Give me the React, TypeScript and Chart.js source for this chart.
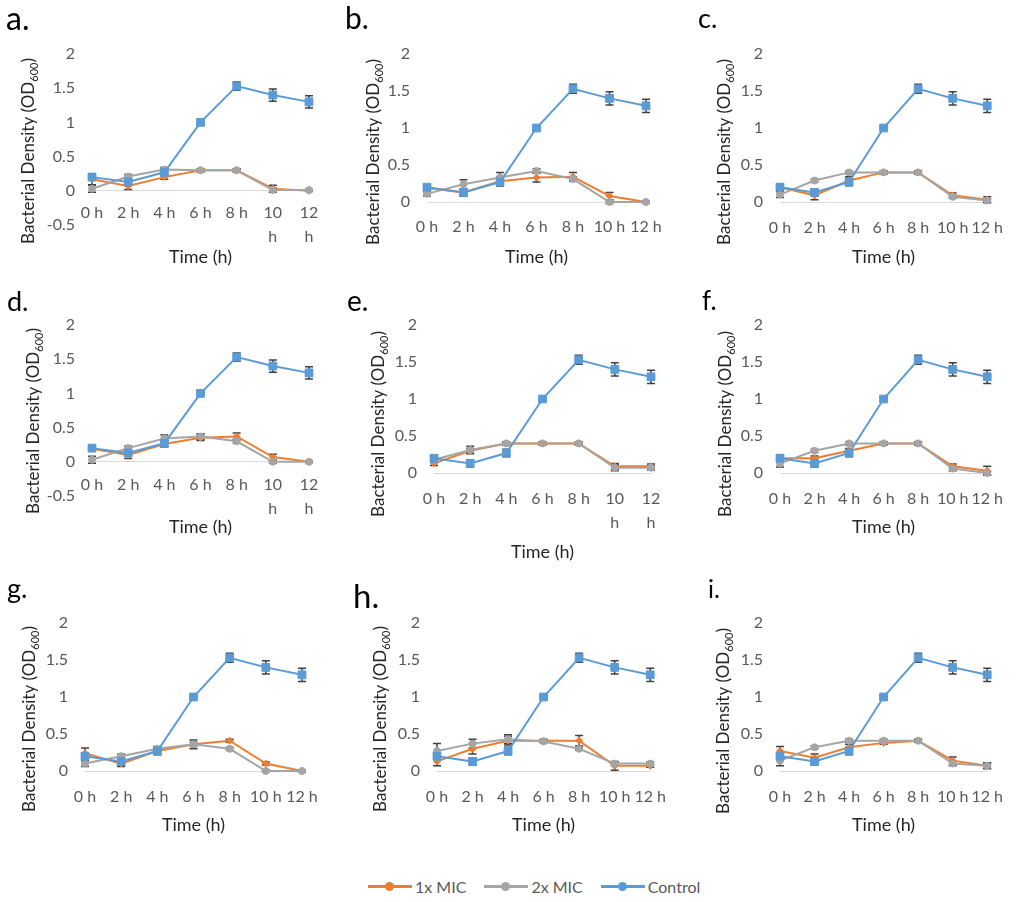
import React, { useEffect, useRef } from "react";
import { Chart, registerables } from "chart.js";

Chart.register(...registerables);

const FONT = "Lato, 'Open Sans', 'DejaVu Sans', sans-serif";

// ---------------- Data ----------------
const timeLabels = ["0 h", "2 h", "4 h", "6 h", "8 h", "10 h", "12 h"];
const timeLabelsWrapped = ["0 h", "2 h", "4 h", "6 h", "8 h", ["10", "h"], ["12", "h"]];
const seriesNames = ["1x MIC", "2x MIC", "Control"];
const xTitleText = "Time (h)";
const yTitleMain = "Bacterial Density (OD";
const yTitleSub = "600";
const yTitleEnd = ")";
const panelLetters = ["a.", "b.", "c.", "d.", "e.", "f.", "g.", "h.", "i."];

const controlValues = [0.2, 0.13, 0.27, 1.0, 1.53, 1.4, 1.3];
const controlErrors = [0.03, 0.05, 0.05, 0.02, 0.06, 0.09, 0.09];

const mic1A = [0.17, 0.07, 0.2, 0.3, 0.3, 0.03, 0.0];
const mic1AErr = [0.08, 0.05, 0.03, 0.02, 0.02, 0.05, 0.01];
const mic2A = [0.03, 0.21, 0.31, 0.3, 0.3, 0.01, 0.01];
const mic2AErr = [0.05, 0.03, 0.03, 0.02, 0.02, 0.03, 0.01];

const mic1B = [0.19, 0.13, 0.28, 0.33, 0.34, 0.08, 0.0];
const mic1BErr = [0.03, 0.05, 0.06, 0.06, 0.06, 0.05, 0.01];
const mic2B = [0.11, 0.24, 0.33, 0.42, 0.31, 0.0, 0.0];
const mic2BErr = [0.03, 0.06, 0.07, 0.03, 0.03, 0.02, 0.01];

const mic1C = [0.2, 0.09, 0.29, 0.4, 0.4, 0.09, 0.03];
const mic1CErr = [0.04, 0.06, 0.05, 0.02, 0.02, 0.03, 0.04];
const mic2C = [0.1, 0.29, 0.4, 0.4, 0.4, 0.07, 0.02];
const mic2CErr = [0.04, 0.02, 0.02, 0.02, 0.02, 0.02, 0.02];

const mic1D = [0.19, 0.1, 0.26, 0.35, 0.37, 0.07, 0.0];
const mic1DErr = [0.03, 0.05, 0.04, 0.04, 0.05, 0.04, 0.01];
const mic2D = [0.03, 0.2, 0.34, 0.37, 0.3, 0.0, 0.0];
const mic2DErr = [0.05, 0.03, 0.05, 0.04, 0.03, 0.02, 0.01];

const mic1E = [0.13, 0.3, 0.4, 0.4, 0.4, 0.09, 0.09];
const mic1EErr = [0.03, 0.03, 0.02, 0.02, 0.02, 0.04, 0.03];
const mic2E = [0.18, 0.31, 0.4, 0.4, 0.4, 0.07, 0.07];
const mic2EErr = [0.03, 0.05, 0.02, 0.02, 0.02, 0.04, 0.03];

const mic1F = [0.2, 0.2, 0.3, 0.4, 0.4, 0.09, 0.03];
const mic1FErr = [0.04, 0.03, 0.03, 0.02, 0.02, 0.03, 0.06];
const mic2F = [0.13, 0.3, 0.4, 0.4, 0.4, 0.06, 0.0];
const mic2FErr = [0.05, 0.02, 0.02, 0.02, 0.02, 0.03, 0.02];

const mic1G = [0.24, 0.1, 0.27, 0.36, 0.41, 0.1, 0.0];
const mic1GErr = [0.07, 0.04, 0.04, 0.06, 0.02, 0.02, 0.01];
const mic2G = [0.1, 0.2, 0.3, 0.36, 0.3, 0.0, 0.0];
const mic2GErr = [0.04, 0.03, 0.03, 0.03, 0.02, 0.01, 0.01];

const mic1H = [0.13, 0.3, 0.41, 0.41, 0.41, 0.07, 0.07];
const mic1HErr = [0.06, 0.07, 0.06, 0.02, 0.07, 0.06, 0.02];
const mic2H = [0.27, 0.37, 0.43, 0.4, 0.3, 0.1, 0.1];
const mic2HErr = [0.1, 0.06, 0.06, 0.02, 0.02, 0.02, 0.02];

const mic1I = [0.27, 0.18, 0.32, 0.38, 0.41, 0.14, 0.07];
const mic1IErr = [0.06, 0.05, 0.04, 0.02, 0.02, 0.05, 0.03];
const mic2I = [0.14, 0.32, 0.41, 0.41, 0.41, 0.1, 0.07];
const mic2IErr = [0.07, 0.02, 0.02, 0.02, 0.02, 0.03, 0.04];

const panelSeries = [
  { mic1: mic1A, mic1Err: mic1AErr, mic2: mic2A, mic2Err: mic2AErr },
  { mic1: mic1B, mic1Err: mic1BErr, mic2: mic2B, mic2Err: mic2BErr },
  { mic1: mic1C, mic1Err: mic1CErr, mic2: mic2C, mic2Err: mic2CErr },
  { mic1: mic1D, mic1Err: mic1DErr, mic2: mic2D, mic2Err: mic2DErr },
  { mic1: mic1E, mic1Err: mic1EErr, mic2: mic2E, mic2Err: mic2EErr },
  { mic1: mic1F, mic1Err: mic1FErr, mic2: mic2F, mic2Err: mic2FErr },
  { mic1: mic1G, mic1Err: mic1GErr, mic2: mic2G, mic2Err: mic2GErr },
  { mic1: mic1H, mic1Err: mic1HErr, mic2: mic2H, mic2Err: mic2HErr },
  { mic1: mic1I, mic1Err: mic1IErr, mic2: mic2I, mic2Err: mic2IErr },
];

// ---------------- Layout / style ----------------
const COLORS = ["#ED7D31", "#A5A5A5", "#5B9BD5"];
const TICK_COLOR = "#595959";
const TITLE_COLOR = "#262626";
const TICK_SIZE = 16;
const TITLE_SIZE = 18;
const Y_TITLE_SIZE = 17;
const Y_AXIS_W = 50;

// canvas: [x, y, w, h]; area: [left, right, top, bottom] in page px
const panelLayout = [
  { canvas: [0, 0, 340, 282], area: [92, 309, 54, 225], yMin: -0.5, wrap: true, labelPad: 10, xTitleY: 257, yTitle: [28, 151], letter: [6, 30, 32] },
  { canvas: [340, 0, 340, 282], area: [427, 646, 54, 202], yMin: 0, wrap: false, labelPad: 13, xTitleY: 257, yTitle: [373, 152], letter: [345, 29, 30] },
  { canvas: [680, 0, 337, 282], area: [780, 997, 54, 202], yMin: 0, wrap: false, labelPad: 14, xTitleY: 257, yTitle: [724, 152], letter: [698, 28, 27] },
  { canvas: [0, 282, 340, 288], area: [92, 309, 325, 496], yMin: -0.5, wrap: true, labelPad: 11, xTitleY: 527, yTitle: [33, 421], letter: [7, 311, 27] },
  { canvas: [340, 282, 340, 288], area: [434, 651, 325, 473], yMin: 0, wrap: true, labelPad: 14, xTitleY: 552, yTitle: [378, 424], letter: [347, 311, 28] },
  { canvas: [680, 282, 337, 288], area: [780, 997, 325, 473], yMin: 0, wrap: false, labelPad: 14, xTitleY: 527, yTitle: [725, 424], letter: [702, 310, 26] },
  { canvas: [0, 570, 340, 280], area: [85, 302, 623, 771], yMin: 0, wrap: false, labelPad: 14, xTitleY: 825, yTitle: [29, 719], letter: [7, 598, 27] },
  { canvas: [340, 570, 340, 280], area: [437, 652, 623, 771], yMin: 0, wrap: false, labelPad: 14, xTitleY: 825, yTitle: [380, 719], letter: [353, 608, 33] },
  { canvas: [680, 570, 337, 280], area: [780, 997, 623, 771], yMin: 0, wrap: false, labelPad: 14, xTitleY: 825, yTitle: [723, 721], letter: [708, 598, 25] },
];

const decorPlugin = {
  id: "decor",
  beforeDatasetsDraw(chart: any) {
    const ctx = chart.ctx;
    const yScale = chart.scales.y;
    ctx.save();
    ctx.strokeStyle = "#404040";
    ctx.lineWidth = 1.5;
    chart.data.datasets.forEach((ds: any, i: number) => {
      const errs = ds.errors;
      if (!errs) return;
      const meta = chart.getDatasetMeta(i);
      meta.data.forEach((pt: any, j: number) => {
        const v = ds.data[j];
        const e = errs[j];
        if (!e) return;
        const x = pt.x;
        const y1 = yScale.getPixelForValue(v + e);
        const y2 = yScale.getPixelForValue(v - e);
        ctx.beginPath();
        ctx.moveTo(x, y1);
        ctx.lineTo(x, y2);
        ctx.moveTo(x - 4, y1);
        ctx.lineTo(x + 4, y1);
        ctx.moveTo(x - 4, y2);
        ctx.lineTo(x + 4, y2);
        ctx.stroke();
      });
    });
    ctx.restore();
  },
  afterDraw(chart: any, _args: any, o: any) {
    const ctx = chart.ctx;
    const ca = chart.chartArea;
    ctx.save();
    // panel letter
    ctx.fillStyle = "#000";
    ctx.textAlign = "left";
    ctx.textBaseline = "alphabetic";
    ctx.font = `${o.letterSize}px ${FONT}`;
    ctx.fillText(o.letter, o.letterX, o.letterY);
    // x title
    ctx.fillStyle = TITLE_COLOR;
    ctx.font = `${TITLE_SIZE}px ${FONT}`;
    ctx.textAlign = "center";
    ctx.textBaseline = "middle";
    ctx.fillText(xTitleText, (ca.left + ca.right) / 2, o.xTitleY);
    // y title (rotated, with subscript)
    ctx.translate(o.yTitleX, o.yTitleY);
    ctx.rotate(-Math.PI / 2);
    const mainFont = `${Y_TITLE_SIZE}px ${FONT}`;
    const subFont = `${Math.round(Y_TITLE_SIZE * 0.65)}px ${FONT}`;
    ctx.font = mainFont;
    const w1 = ctx.measureText(yTitleMain).width;
    const w3 = ctx.measureText(yTitleEnd).width;
    ctx.font = subFont;
    const w2 = ctx.measureText(yTitleSub).width;
    let x = -(w1 + w2 + w3) / 2;
    const base = Y_TITLE_SIZE * 0.35;
    ctx.textAlign = "left";
    ctx.textBaseline = "alphabetic";
    ctx.font = mainFont;
    ctx.fillText(yTitleMain, x, base);
    x += w1;
    ctx.font = subFont;
    ctx.fillText(yTitleSub, x, base + Y_TITLE_SIZE * 0.22);
    x += w2;
    ctx.font = mainFont;
    ctx.fillText(yTitleEnd, x, base);
    ctx.restore();
  },
};

function Panel({ index }: { index: number }) {
  const ref = useRef<HTMLCanvasElement>(null);
  const L = panelLayout[index];
  const S = panelSeries[index];
  const [cx, cy, cw, ch] = L.canvas;
  const [al, ar, at, ab] = L.area;

  useEffect(() => {
    if (!ref.current) return;
    const mk = (label: string, data: number[], errors: number[], color: string, style: string, radius: number, order: number) => ({
      label,
      data,
      errors,
      borderColor: color,
      backgroundColor: color,
      pointBackgroundColor: color,
      pointBorderColor: color,
      pointStyle: style,
      pointRadius: radius,
      pointBorderWidth: 1,
      borderWidth: 2,
      tension: 0,
      clip: false,
      order,
    });
    const chart = new Chart(ref.current, {
      type: "line",
      data: {
        labels: (L.wrap ? timeLabelsWrapped : timeLabels) as any,
        datasets: [
          mk(seriesNames[0], S.mic1, S.mic1Err, COLORS[0], "rectRot", 3.5, 2),
          mk(seriesNames[1], S.mic2, S.mic2Err, COLORS[1], "circle", 3.5, 1),
          mk(seriesNames[2], controlValues, controlErrors, COLORS[2], "rect", 5.5, 0),
        ] as any,
      },
      options: {
        animation: false,
        responsive: true,
        maintainAspectRatio: false,
        events: [],
        layout: {
          padding: {
            left: al - cx - Y_AXIS_W,
            right: cx + cw - ar,
            top: at - cy,
            bottom: cy + ch - ab,
          },
        },
        plugins: {
          legend: { display: false },
          tooltip: { enabled: false },
          decor: {
            letter: panelLetters[index],
            letterX: L.letter[0] - cx,
            letterY: L.letter[1] - cy,
            letterSize: L.letter[2],
            xTitleY: L.xTitleY - cy,
            yTitleX: L.yTitle[0] - cx,
            yTitleY: L.yTitle[1] - cy,
          },
        } as any,
        scales: {
          x: {
            type: "category",
            position: { y: 0 } as any,
            offset: false,
            grid: { display: false, drawTicks: false },
            border: { display: true, color: "#D9D9D9", width: 1 },
            ticks: {
              autoSkip: false,
              maxRotation: 0,
              minRotation: 0,
              padding: L.labelPad,
              color: TICK_COLOR,
              font: { family: FONT, size: TICK_SIZE, lineHeight: 1.5 },
            },
          },
          y: {
            type: "linear",
            min: L.yMin,
            max: 2,
            grid: { display: false, drawTicks: false },
            border: { display: false },
            afterFit: (s: any) => {
              s.width = Y_AXIS_W;
            },
            ticks: {
              stepSize: 0.5,
              padding: 17,
              color: TICK_COLOR,
              font: { family: FONT, size: TICK_SIZE },
              callback: (v: any) => String(v),
            },
          },
        },
      },
      plugins: [decorPlugin as any],
    });
    return () => chart.destroy();
  }, [index]);

  return (
    <div style={{ position: "absolute", left: cx, top: cy, width: cw, height: ch }}>
      <canvas ref={ref} />
    </div>
  );
}

function Legend() {
  return (
    <div
      style={{
        position: "absolute",
        left: 368,
        top: 875,
        height: 22,
        display: "flex",
        alignItems: "center",
        fontFamily: FONT,
        fontSize: 16,
        color: TICK_COLOR,
        whiteSpace: "nowrap",
      }}
    >
      {seriesNames.map((n, i) => (
        <div key={n} style={{ display: "flex", alignItems: "center", marginRight: 18 }}>
          <span style={{ position: "relative", display: "inline-block", width: 44, height: 3, background: COLORS[i], marginRight: 3 }}>
            <span
              style={{
                position: "absolute",
                left: 17,
                top: -3,
                width: 9,
                height: 9,
                borderRadius: "50%",
                background: COLORS[i],
              }}
            />
          </span>
          <span>{n}</span>
        </div>
      ))}
    </div>
  );
}

export default function App() {
  return (
    <div style={{ position: "absolute", left: 0, top: 0, width: 1017, height: 902, background: "#fff", overflow: "hidden" }}>
      {panelLayout.map((_, i) => (
        <Panel key={i} index={i} />
      ))}
      <Legend />
    </div>
  );
}
